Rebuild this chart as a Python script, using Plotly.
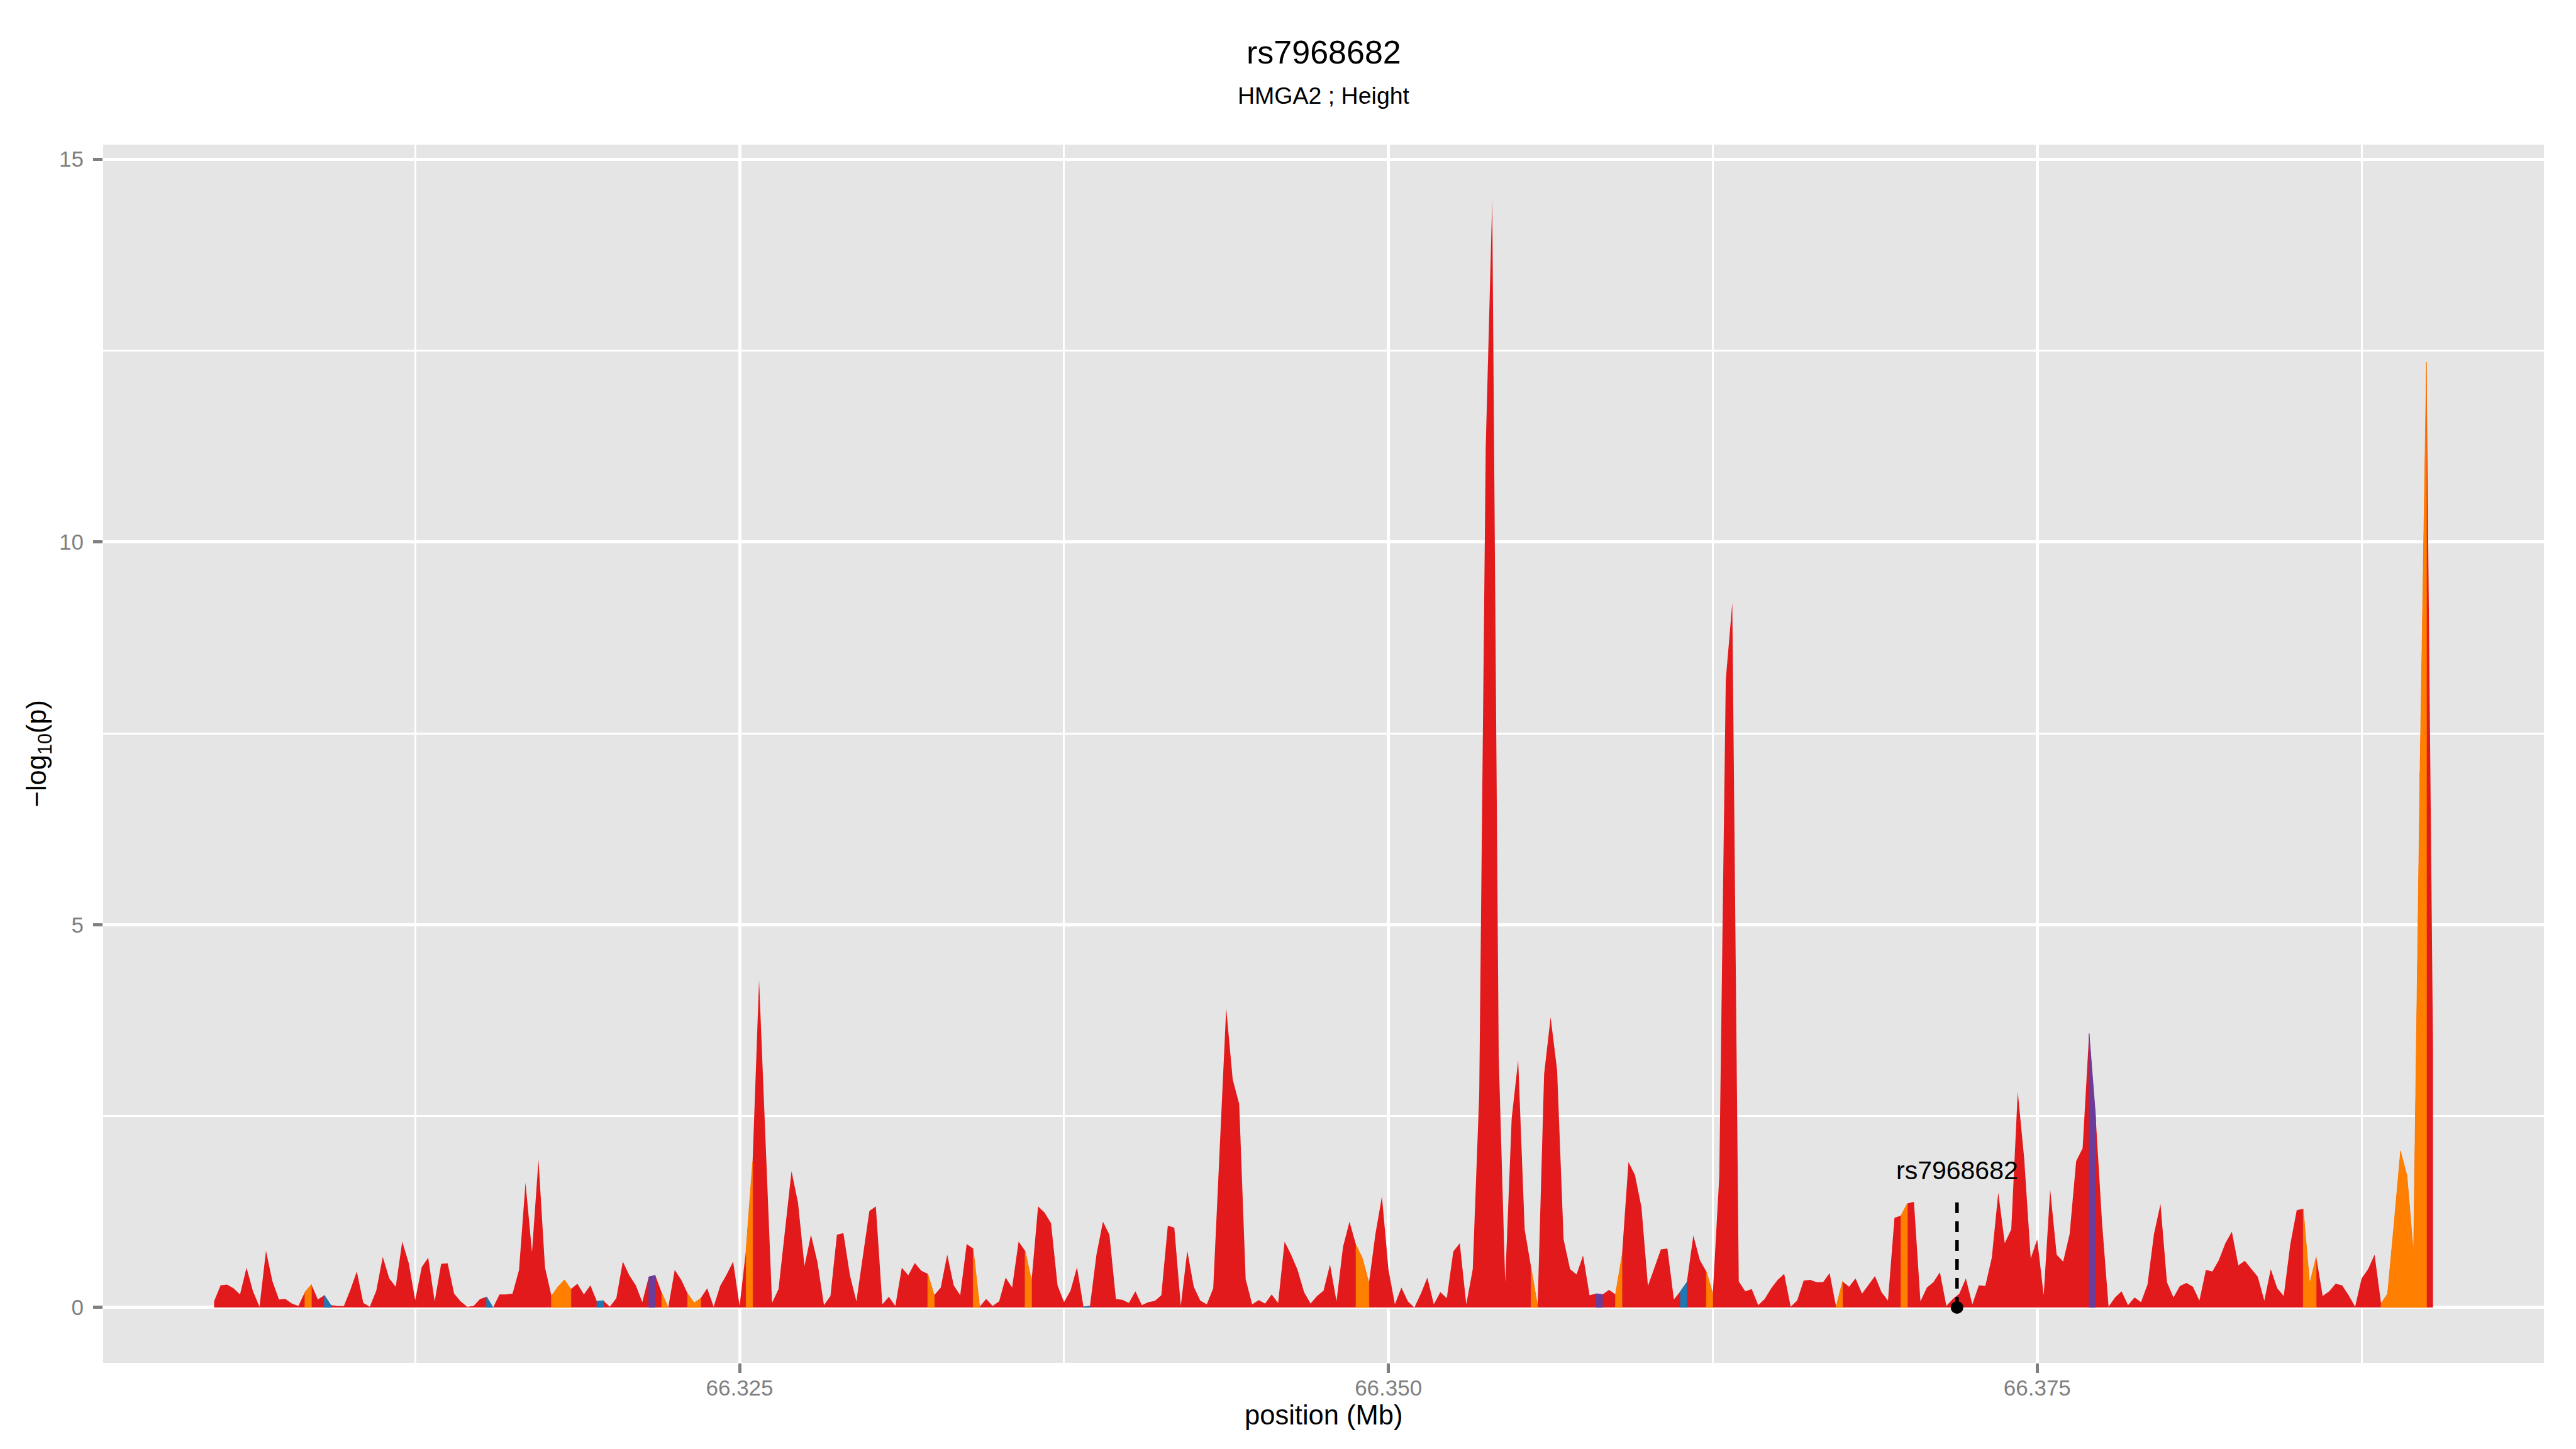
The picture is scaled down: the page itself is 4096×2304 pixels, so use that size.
import plotly.graph_objects as go

# ---------------- data ----------------
# SNP positions, in kb from 66.300 Mb
pos_kb = [
    4.75, 5.00, 5.25, 5.50, 5.75, 6.00, 6.25, 6.50, 6.75, 7.00, 7.25, 7.50, 7.75, 8.00,
    8.25, 8.50, 8.75, 9.00, 9.25, 9.50, 9.75, 10.00, 10.25, 10.50, 10.75, 11.00, 11.25,
    11.50, 11.75, 12.00, 12.25, 12.50, 12.75, 13.00, 13.25, 13.50, 13.75, 14.00, 14.25,
    14.50, 14.75, 15.00, 15.25, 15.50, 15.75, 16.00, 16.25, 16.50, 16.75, 17.00, 17.25,
    17.50, 17.75, 18.00, 18.25, 18.50, 18.75, 19.00, 19.25, 19.50, 19.75, 20.00, 20.25,
    20.50, 20.75, 21.00, 21.25, 21.50, 21.75, 22.00, 22.25, 22.50, 22.75, 23.00, 23.25,
    23.50, 23.75, 24.00, 24.25, 24.50, 24.75, 25.00, 25.25, 25.50, 25.75,
    26.25, 26.50, 27.00, 27.25, 27.50, 27.75, 28.00, 28.25, 28.50, 28.75, 29.00, 29.25,
    29.50, 30.00, 30.25, 30.50, 30.75, 31.00, 31.25, 31.50, 31.75, 32.00, 32.25, 32.50,
    32.75, 33.00, 33.25, 33.50, 33.75, 34.00, 34.25, 34.50, 34.75, 35.00, 35.25, 35.50,
    35.75, 36.00, 36.25, 36.50, 36.75, 37.00, 37.25, 37.50, 37.75, 38.00, 38.25, 38.50,
    38.75, 39.00, 39.25, 39.50, 39.75, 40.00, 40.25, 40.50, 40.75, 41.00, 41.25, 41.50,
    41.75, 42.00, 42.25, 42.50, 42.75, 43.00, 43.25, 43.75, 44.00, 44.25, 44.50, 44.75,
    45.00, 45.25, 45.50, 45.75, 46.00, 46.25, 46.50, 46.75, 47.00, 47.25, 47.50, 47.75,
    48.00, 48.25, 48.50, 48.75, 49.00, 49.25, 49.50, 49.75, 50.00, 50.25, 50.50, 50.75,
    51.00, 51.25, 51.50, 51.75, 52.00, 52.25, 52.50, 52.75, 53.00, 53.25, 53.50, 53.75,
    54.00, 54.25, 54.50, 54.75, 55.00, 55.25, 55.50, 55.75, 56.00, 56.25, 56.50, 56.75,
    57.00, 57.25, 57.50, 57.75, 58.00, 58.25, 58.50, 58.75, 59.00, 59.25, 59.50, 59.75,
    60.00, 60.25, 60.50, 60.75, 61.00, 61.25, 61.50, 61.75, 62.00, 62.25, 62.50, 62.75,
    63.00, 63.25, 63.50, 63.75, 64.00, 64.25, 64.50, 64.75, 65.00, 65.25, 65.50, 65.75,
    66.00, 66.25, 66.50, 66.75, 67.00, 67.25, 67.50, 67.75, 68.00, 68.25, 68.50, 68.75,
    69.00, 69.25, 69.50, 69.75, 70.00, 70.25, 70.50, 70.75, 71.00, 71.25, 71.50, 71.75,
    72.00, 72.25, 72.50, 72.75, 73.00, 73.25, 73.50, 73.75, 74.00, 74.25, 74.50, 74.75,
    75.00, 75.25, 75.50, 75.75, 76.00, 76.25, 76.50, 76.75, 77.00, 77.25, 77.50, 77.75,
    78.00, 78.25, 78.50, 78.75, 79.00, 79.25, 79.50, 79.75, 80.00, 80.25, 80.50, 80.75,
    81.00, 81.25, 81.50, 81.75, 82.00, 82.25, 82.50, 82.75, 83.00, 83.25, 83.50, 83.75,
    84.00, 84.25, 84.50, 84.75, 85.00, 85.25, 85.50, 85.75, 86.00, 86.25, 86.50, 86.75,
    87.00, 87.25, 87.50, 87.75, 88.00, 88.25, 88.50, 88.75, 89.00, 89.25, 89.50, 89.75,
    90.00, 90.25,
]

# -log10(p) at each position
neglog10p = [
    0.08, 0.29, 0.30, 0.25, 0.17, 0.52, 0.21, 0.01, 0.74, 0.34, 0.105, 0.11, 0.05, 0.02,
    0.20, 0.30, 0.105, 0.16, 0.03, 0.02, 0.017, 0.23, 0.47, 0.06, 0.01, 0.22, 0.66,
    0.38, 0.27, 0.86, 0.58, 0.095, 0.525, 0.65, 0.08, 0.57, 0.576, 0.18, 0.08,
    0.01, 0.02, 0.11, 0.14, 0.0, 0.17, 0.17, 0.18, 0.49, 1.63, 0.72, 1.93,
    0.525, 0.15, 0.27, 0.36, 0.24, 0.31, 0.17, 0.29, 0.08, 0.09, 0.01, 0.12,
    0.60, 0.42, 0.29, 0.07, 0.40, 0.42, 0.19, 0.0, 0.49, 0.36, 0.18, 0.06,
    0.12, 0.25, 0.01, 0.28, 0.43, 0.60, 0.02, 0.76, 1.90, 4.28,
    0.06, 0.24, 1.78, 1.37, 0.54, 0.95, 0.59, 0.03, 0.15, 0.95, 0.97, 0.42,
    0.08, 1.26, 1.32, 0.04, 0.14, 0.02, 0.52, 0.42, 0.58, 0.48, 0.44, 0.16,
    0.26, 0.69, 0.29, 0.16, 0.83, 0.77, 0.01, 0.11, 0.02, 0.08, 0.39, 0.26,
    0.86, 0.74, 0.35, 1.32, 1.24, 1.10, 0.29, 0.07, 0.22, 0.525, 0.01, 0.02,
    0.69, 1.12, 0.95, 0.11, 0.10, 0.06, 0.21, 0.03, 0.07, 0.085, 0.16, 1.07,
    1.04, 0.02, 0.74, 0.27, 0.09, 0.04, 0.25, 3.91, 2.98, 2.66, 0.37, 0.04,
    0.095, 0.05, 0.17, 0.06, 0.86, 0.69, 0.49, 0.20, 0.05, 0.15, 0.22, 0.56,
    0.08, 0.79, 1.12, 0.82, 0.64, 0.32, 0.96, 1.45, 0.50, 0.04, 0.26, 0.08,
    0.0, 0.18, 0.39, 0.04, 0.20, 0.12, 0.73, 0.84, 0.04, 0.50, 2.79, 11.23,
    14.47, 3.28, 0.33, 2.47, 3.23, 1.02, 0.51, 0.02, 3.05, 3.79, 3.10, 0.89,
    0.50, 0.43, 0.68, 0.16, 0.18, 0.17, 0.23, 0.17, 0.68, 1.90, 1.73, 1.31,
    0.28, 0.52, 0.76, 0.77, 0.105, 0.21, 0.33, 0.94, 0.62, 0.47, 0.18, 1.72,
    8.20, 9.20, 0.34, 0.21, 0.24, 0.03, 0.11, 0.25, 0.36, 0.44, 0.01, 0.09,
    0.35, 0.36, 0.33, 0.33, 0.45, 0.01, 0.34, 0.27, 0.38, 0.18, 0.30, 0.41,
    0.20, 0.09, 1.17, 1.20, 1.36, 1.38, 0.08, 0.26, 0.33, 0.46, 0.02, 0.11,
    0.18, 0.38, 0.04, 0.29, 0.28, 0.65, 1.50, 0.84, 1.02, 2.82, 1.94, 0.64,
    0.89, 0.16, 1.54, 0.69, 0.60, 0.96, 1.91, 2.08, 3.58, 2.50, 1.10, 0.01,
    0.13, 0.21, 0.03, 0.13, 0.07, 0.30, 0.96, 1.35, 0.33, 0.13, 0.28, 0.32,
    0.27, 0.09, 0.49, 0.47, 0.62, 0.84, 0.99, 0.55, 0.61, 0.50, 0.40, 0.09,
    0.50, 0.25, 0.15, 0.82, 1.27, 1.29, 0.31, 0.66, 0.15, 0.21, 0.31, 0.29,
    0.16, 0.01, 0.38, 0.50, 0.69, 0.05, 0.18, 1.09, 2.04, 1.72, 0.70, 7.00,
    12.35, 3.40,
]

# LD class of the stretch that starts at each SNP position -> next position
# positions (kb) whose stretch is not in the default (red) class
ld_orange_kb = [8.25, 17.75, 18.00, 18.25, 22.00, 23.00, 23.25, 25.25, 32.25, 34.00,
                36.00, 48.75, 49.00, 55.50, 58.75, 62.25, 67.25, 69.75, 85.25, 85.50,
                88.25, 88.50, 88.75, 89.00, 89.25, 89.50, 89.75]
ld_blue_kb = [9.00, 15.25, 19.50, 38.25, 61.25]
ld_purple_kb = [21.50, 58.00, 77.00]

base_mb = 66.300
lead_snp = "rs7968682"
lead_pos_mb = 66.37191
lead_line_top = 1.44
lead_label_y = 1.79

title_text = "rs7968682"
subtitle_text = "HMGA2 ; Height"
x_title = "position (Mb)"
y_title = "\u2212log<sub>10</sub>(p)"

colors = {"red": "#E31A1C", "orange": "#FF7F00", "blue": "#1F78B4", "purple": "#6A3D9A"}

# ---------------- figure ----------------
x_mb = [base_mb + k / 1000.0 for k in pos_kb]

fig = go.Figure()

# base area (all stretches, red class)
fig.add_trace(go.Scatter(
    x=x_mb, y=neglog10p, mode="lines", fill="tozeroy",
    fillcolor=colors["red"], line=dict(width=0, color=colors["red"]),
    hoverinfo="skip", showlegend=False))

def seg_polys(kb_list):
    xs, ys = [], []
    for k in kb_list:
        i = min(range(len(pos_kb)), key=lambda j: abs(pos_kb[j] - k))
        if i + 1 >= len(pos_kb):
            continue
        x0, x1 = x_mb[i], x_mb[i + 1]
        y0, y1 = neglog10p[i], neglog10p[i + 1]
        xs += [x0, x0, x1, x1, x0, None]
        ys += [0, y0, y1, 0, 0, None]
    return xs, ys

for name, lst in (("orange", ld_orange_kb), ("blue", ld_blue_kb), ("purple", ld_purple_kb)):
    xs, ys = seg_polys(lst)
    fig.add_trace(go.Scatter(
        x=xs, y=ys, mode="lines", fill="toself", fillcolor=colors[name],
        line=dict(width=0.8, color=colors[name]), connectgaps=False,
        hoverinfo="skip", showlegend=False))

# lead SNP marker
fig.add_trace(go.Scatter(
    x=[lead_pos_mb, lead_pos_mb], y=[0, lead_line_top], mode="lines",
    line=dict(color="black", width=5.5, dash="17px,13px"),
    hoverinfo="skip", showlegend=False))
fig.add_trace(go.Scatter(
    x=[lead_pos_mb], y=[0], mode="markers",
    marker=dict(color="black", size=20, line=dict(width=0)),
    hoverinfo="skip", showlegend=False))

FONT = "Liberation Sans, Arial, Helvetica, sans-serif"
# page body has an 8px margin: keep the figure inside the window
W, H = 4080, 2288
ML, MR, MT, MB = 156, 43, 222, 129

fig.add_annotation(x=lead_pos_mb, y=lead_label_y, xref="x", yref="y", text=lead_snp,
                   showarrow=False, xanchor="center", yanchor="middle",
                   font=dict(family=FONT, size=41, color="black"))

fig.add_annotation(x=0.5, y=1, xref="paper", yref="paper", yshift=147, text=title_text,
                   showarrow=False, xanchor="center", yanchor="middle",
                   font=dict(family=FONT, size=52, color="black"))
fig.add_annotation(x=0.5, y=1, xref="paper", yref="paper", yshift=78, text=subtitle_text,
                   showarrow=False, xanchor="center", yanchor="middle",
                   font=dict(family=FONT, size=37.5, color="black"))
fig.add_annotation(x=0.5, y=0, xref="paper", yref="paper", yshift=-57, text=x_title,
                   showarrow=False, xanchor="center", yanchor="top",
                   font=dict(family=FONT, size=43.5, color="black"))
fig.add_annotation(x=0, y=0.5, xref="paper", yref="paper", xshift=-104, text=y_title,
                   showarrow=False, xanchor="center", yanchor="middle", textangle=-90,
                   font=dict(family=FONT, size=43.5, color="black"))

axis_common = dict(
    showgrid=True, gridcolor="white", gridwidth=5, zeroline=False, showline=False,
    ticks="outside", ticklen=15, tickwidth=5, tickcolor="#7F7F7F",
    tickfont=dict(family=FONT, size=35, color="#7F7F7F"),
)

fig.update_layout(
    width=W, height=H,
    margin=dict(l=ML, r=MR, t=MT, b=MB, pad=0),
    paper_bgcolor="white", plot_bgcolor="#E5E5E5",
    showlegend=False,
    xaxis=dict(range=[66.300475, 66.394525], tick0=66.3, dtick=0.025, tickformat=".3f",
               minor=dict(tick0=66.3, dtick=0.0125, showgrid=True, gridcolor="white",
                          gridwidth=2.5, ticks=""),
               ticklabelstandoff=-6, **axis_common),
    yaxis=dict(range=[-0.7235, 15.19], tick0=0, dtick=5,
               minor=dict(tick0=0, dtick=2.5, showgrid=True, gridcolor="white",
                          gridwidth=2.5, ticks=""),
               ticklabelstandoff=8, **axis_common),
)

fig.write_html("out.html")
